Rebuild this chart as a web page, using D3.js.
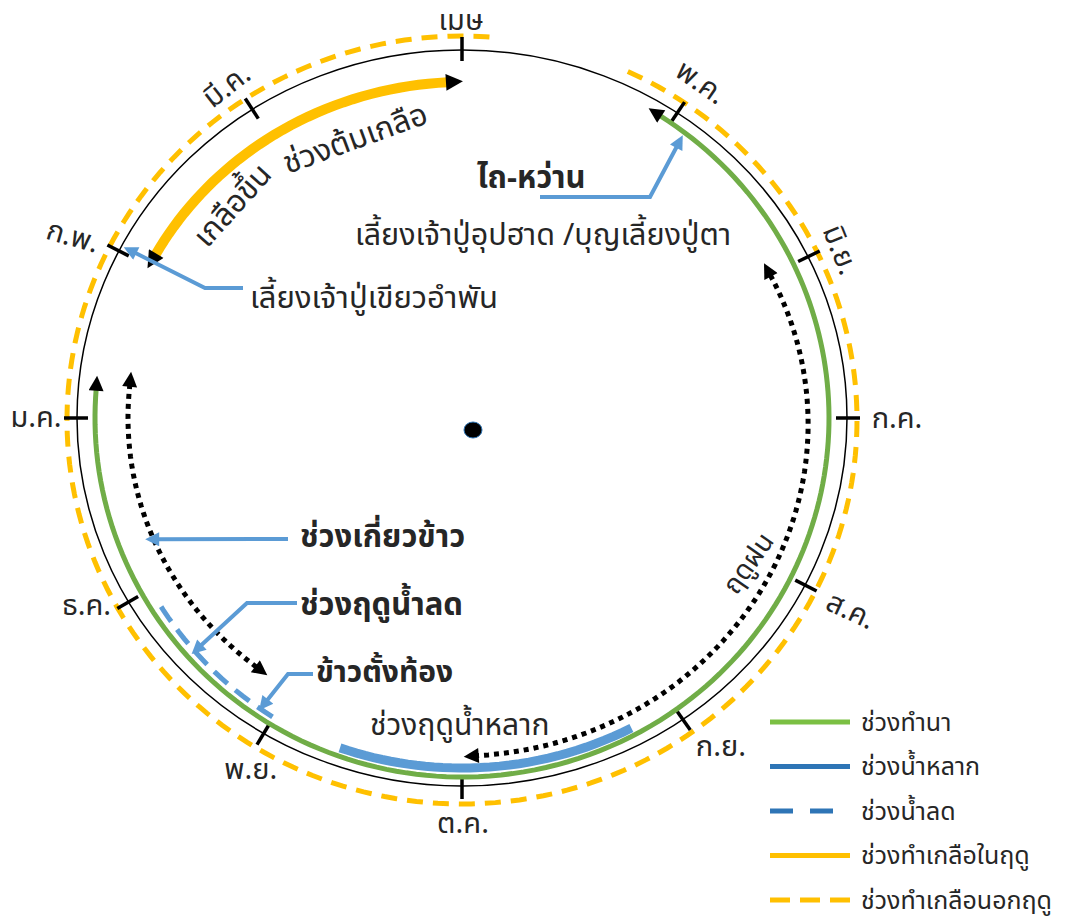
<!DOCTYPE html>
<html>
<head>
<meta charset="utf-8">
<script src="https://cdn.jsdelivr.net/npm/d3@7"></script>
<style>
  body { margin: 0; background: #fff; }
  svg text { font-family: "Noto Sans Thai", "Noto Sans Thai UI", "Leelawadee UI", Tahoma, "Noto Sans", "DejaVu Sans", sans-serif; fill: #262626; }
</style>
</head>
<body>
<div id="chart"></div>
<script>
// months around the wheel, April at the top, running clockwise
const months = ['เมษ', 'พ.ค.', 'มิ.ย.', 'ก.ค.', 'ส.ค.', 'ก.ย.', 'ต.ค.', 'พ.ย.', 'ธ.ค.', 'ม.ค.', 'ก.พ.', 'มี.ค.'];

// periods, in months counted from the April tick (0)
const bandNames = ['ช่วงทำนา', 'ช่วงน้ำหลาก', 'ช่วงน้ำลด', 'ช่วงทำเกลือในฤดู', 'ช่วงทำเกลือนอกฤดู'];
const bandStart = [0.96, 5.21, 7.04, 10.08, 0.73];
const bandEnd   = [9.17, 6.63, 7.95, 11.93, 12.15];

// dotted season arrows
const seasonNames = ['ฤดูฝน', 'ช่วงเกี่ยวข้าว'];
const seasonStart = [2.0, 7.24];
const seasonEnd   = [5.93, 9.22];

// call-outs: text and the month they point at
const calloutText  = ['ไถ-หว่าน', 'เลี้ยงเจ้าปู่เขียวอำพัน', 'ช่วงเกี่ยวข้าว', 'ช่วงฤดูน้ำลด', 'ข้าวตั้งท้อง'];
const calloutMonth = [1.1, 10.03, 8.24, 7.57, 7.08];

// other notes
const noteText = ['เลี้ยงเจ้าปู่อุปฮาด /บุญเลี้ยงปู่ตา', 'ช่วงฤดูน้ำหลาก', 'ช่วงต้มเกลือ', 'เกลือขึ้น'];

document.addEventListener('DOMContentLoaded', draw);

function draw() {
  const W = 1070, H = 921;
  const cx = 462, cy = 418;
  const RX = 385, RY = 368;   // main black ring

  const svg = d3.select('#chart').append('svg')
      .attr('width', W)
      .attr('height', H);

  // month -> angle in degrees (clockwise from top); the wheel is a bit uneven
  const angle = d3.scaleLinear()
      .domain(d3.range(14))
      .range([0, 34, 64, 90, 117, 145, 180, 211, 240, 270, 297, 327, 360, 394]);

  function pt(m, rx, ry, oy) {
    const a = angle(m) * Math.PI / 180;
    return [cx + rx * Math.sin(a), (oy || cy) - ry * Math.cos(a)];
  }

  // arc along an ellipse, inset may change from start to end
  function arcPath(m0, m1, rx, ry, in0, in1, oy) {
    if (in1 === undefined) in1 = in0 || 0;
    in0 = in0 || 0;
    const n = Math.max(8, Math.ceil(Math.abs(angle(m1) - angle(m0)) / 1.5));
    const pts = d3.range(n + 1).map(i => {
      const t = i / n;
      const d = in0 + (in1 - in0) * t;
      return pt(m0 + (m1 - m0) * t, rx - d, ry - d, oy);
    });
    return d3.line()(pts);
  }

  // markers
  const defs = svg.append('defs');
  function marker(id, color, w, h) {
    defs.append('marker')
        .attr('id', id)
        .attr('viewBox', '0 0 10 10')
        .attr('refX', 1)
        .attr('refY', 5)
        .attr('markerUnits', 'userSpaceOnUse')
        .attr('markerWidth', w)
        .attr('markerHeight', h)
        .attr('orient', 'auto-start-reverse')
      .append('path')
        .attr('d', 'M0,0 L10,5 L0,10 Z')
        .attr('fill', color);
  }
  marker('headBlack', '#000', 17, 15);
  marker('headBig', '#000', 19, 17);
  marker('headBlue', '#5B9BD5', 17, 14);

  const green = '#70AD47', blue = '#5B9BD5', gold = '#FFC000';

  // outer dashed salt ring (out of season)
  svg.append('path')
      .attr('d', arcPath(bandStart[4], bandEnd[4], 395, 384, 0, 0, 420))
      .attr('fill', 'none')
      .attr('stroke', gold)
      .attr('stroke-width', 5)
      .attr('stroke-dasharray', '16,10');

  // main ring
  svg.append('ellipse')
      .attr('cx', cx).attr('cy', cy)
      .attr('rx', RX).attr('ry', RY)
      .attr('fill', 'none')
      .attr('stroke', '#000')
      .attr('stroke-width', 1.5);

  // month ticks
  svg.selectAll('.tick')
    .data(months)
    .enter()
    .append('line')
      .attr('class', 'tick')
      .attr('x1', (d, i) => pt(i, RX - 11, RY - 11)[0])
      .attr('y1', (d, i) => pt(i, RX - 11, RY - 11)[1])
      .attr('x2', (d, i) => pt(i, RX + 13, RY + 13)[0])
      .attr('y2', (d, i) => pt(i, RX + 13, RY + 13)[1])
      .attr('stroke', '#000')
      .attr('stroke-width', 3.5);

  // month labels, nudged off the ring
  const nudge = [[-1, -30], [24, -31], [33, -7], [50, 0], [46, 25], [38, 26],
                 [1, 37], [-13, 35], [-42, 3], [-41, -1], [-46, -15], [-26, -24]];
  const tilt = [0, 35, 68, 0, 25, 0, 0, 0, 0, 0, 16, -38];
  svg.selectAll('.mlabel')
    .data(months)
    .enter()
    .append('text')
      .attr('class', 'mlabel')
      .attr('transform', (d, i) => {
        const p = pt(i, RX, RY);
        return 'translate(' + (p[0] + nudge[i][0]) + ',' + (p[1] + nudge[i][1]) + ') rotate(' + tilt[i] + ')';
      })
      .attr('text-anchor', 'middle')
      .attr('dy', '0.35em')
      .attr('font-size', 29)
      .text(d => d);

  // farming period (green, arrows both ends)
  svg.append('path')
      .attr('d', arcPath(bandStart[0], bandEnd[0], 367, 359))
      .attr('fill', 'none')
      .attr('stroke', green)
      .attr('stroke-width', 5)
      .attr('marker-start', 'url(#headBlack)')
      .attr('marker-end', 'url(#headBlack)');

  // flood (solid blue)
  svg.append('path')
      .attr('d', arcPath(bandStart[1], bandEnd[1], 365, 350))
      .attr('fill', 'none')
      .attr('stroke', blue)
      .attr('stroke-width', 9);

  // receding water (dashed blue)
  svg.append('path')
      .attr('d', arcPath(bandStart[2], bandEnd[2], 356, 353))
      .attr('fill', 'none')
      .attr('stroke', blue)
      .attr('stroke-width', 5)
      .attr('stroke-dasharray', '18,10');

  // salt boiling in season (solid gold)
  svg.append('path')
      .attr('d', arcPath(bandStart[3], bandEnd[3], 356, 336, 4, 0))
      .attr('fill', 'none')
      .attr('stroke', gold)
      .attr('stroke-width', 10)
      .attr('marker-start', 'url(#headBig)')
      .attr('marker-end', 'url(#headBig)');

  // rainy season dotted arrow
  svg.append('path')
      .attr('d', arcPath(seasonStart[0], seasonEnd[0], RX, RY, 42, 30))
      .attr('fill', 'none')
      .attr('stroke', '#000')
      .attr('stroke-width', 5)
      .attr('stroke-dasharray', '5,5')
      .attr('marker-start', 'url(#headBlack)')
      .attr('marker-end', 'url(#headBlack)');

  // harvest dotted arrow
  svg.append('path')
      .attr('d', arcPath(seasonStart[1], seasonEnd[1], 334, 316))
      .attr('fill', 'none')
      .attr('stroke', '#000')
      .attr('stroke-width', 5)
      .attr('stroke-dasharray', '5,5')
      .attr('marker-start', 'url(#headBlack)')
      .attr('marker-end', 'url(#headBlack)');

  // season label along the rain arrow
  svg.append('text')
      .attr('transform', 'translate(748,563) rotate(-55)')
      .attr('text-anchor', 'middle')
      .attr('dy', '0.35em')
      .attr('font-size', 27)
      .text(seasonNames[0]);

  // call-outs with blue arrows
  const calloutInset = [28, 15, 55, 31, 30];
  const calloutTail = [
    [[540, 197], [650, 197]],
    [[243, 288], [205, 288]],
    [[288, 539]],
    [[297, 603], [247, 603]],
    [[313, 674], [288, 674]]
  ];
  calloutText.forEach((t, i) => {
    const tip = pt(calloutMonth[i], RX - calloutInset[i], RY - calloutInset[i]);
    svg.append('path')
        .attr('d', d3.line()(calloutTail[i].concat([tip])))
        .attr('fill', 'none')
        .attr('stroke', blue)
        .attr('stroke-width', 4)
        .attr('marker-end', 'url(#headBlue)');
  });

  const calloutPos = [[477, 188], [250, 308], [300, 547], [300, 615], [316, 682]];
  const calloutBold = [true, false, true, true, true];
  const calloutSize = [31, 31, 31, 31, 30];
  svg.selectAll('.callout')
    .data(calloutText)
    .enter()
    .append('text')
      .attr('class', 'callout')
      .attr('x', (d, i) => calloutPos[i][0])
      .attr('y', (d, i) => calloutPos[i][1])
      .attr('font-size', (d, i) => calloutSize[i])
      .attr('font-weight', (d, i) => calloutBold[i] ? 'bold' : 'normal')
      .text(d => d);

  // other notes
  svg.append('text')
      .attr('x', 355).attr('y', 245)
      .attr('font-size', 30.5)
      .text(noteText[0]);
  svg.append('text')
      .attr('x', 370).attr('y', 735)
      .attr('font-size', 30)
      .text(noteText[1]);
  svg.append('text')
      .attr('transform', 'translate(355,138) rotate(-20)')
      .attr('text-anchor', 'middle')
      .attr('dy', '0.35em')
      .attr('font-size', 31)
      .text(noteText[2]);
  svg.append('text')
      .attr('transform', 'translate(232,205) rotate(-48)')
      .attr('text-anchor', 'middle')
      .attr('dy', '0.35em')
      .attr('font-size', 31)
      .text(noteText[3]);

  // centre point
  svg.append('ellipse')
      .attr('cx', 473).attr('cy', 430)
      .attr('rx', 9).attr('ry', 8)
      .attr('fill', '#000')
      .attr('stroke', '#2E75B6')
      .attr('stroke-width', 1);

  // legend
  const legColor = ['#7BC043', '#2E75B6', '#2E75B6', gold, gold];
  const legDash = [null, null, '23,17', null, '20,10'];
  const legY = d3.scalePoint()
      .domain(bandNames)
      .range([722, 900]);
  const leg = svg.append('g').attr('class', 'legend');
  leg.selectAll('line')
    .data(bandNames)
    .enter()
    .append('line')
      .attr('x1', 770).attr('x2', 850)
      .attr('y1', d => legY(d)).attr('y2', d => legY(d))
      .attr('stroke', (d, i) => legColor[i])
      .attr('stroke-width', 5)
      .attr('stroke-dasharray', (d, i) => legDash[i]);
  leg.selectAll('text')
    .data(bandNames)
    .enter()
    .append('text')
      .attr('x', 861)
      .attr('y', d => legY(d))
      .attr('dy', '0.35em')
      .attr('font-size', 25)
      .text(d => d);
}
</script>
</body>
</html>
